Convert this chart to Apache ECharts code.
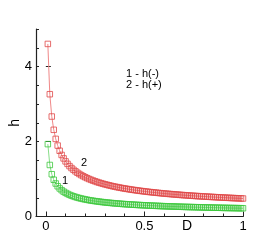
<!DOCTYPE html>
<html><head><meta charset="utf-8">
<script src="https://cdn.jsdelivr.net/npm/echarts@6/dist/echarts.min.js"></script>
<style>html,body{margin:0;padding:0;background:#fff}#c{width:276px;height:245px}</style>
</head><body><div id="c"></div>
<script>
const D = [0.01,0.02,0.03,0.04,0.05,0.06,0.07,0.08,0.09,0.10,
0.11,0.12,0.13,0.14,0.15,0.16,0.17,0.18,0.19,0.20,
0.21,0.22,0.23,0.24,0.25,0.26,0.27,0.28,0.29,0.30,
0.31,0.32,0.33,0.34,0.35,0.36,0.37,0.38,0.39,0.40,
0.41,0.42,0.43,0.44,0.45,0.46,0.47,0.48,0.49,0.50,
0.51,0.52,0.53,0.54,0.55,0.56,0.57,0.58,0.59,0.60,
0.61,0.62,0.63,0.64,0.65,0.66,0.67,0.68,0.69,0.70,
0.71,0.72,0.73,0.74,0.75,0.76,0.77,0.78,0.79,0.80,
0.81,0.82,0.83,0.84,0.85,0.86,0.87,0.88,0.89,0.90,
0.91,0.92,0.93,0.94,0.95,0.96,0.97,0.98,0.99,1.00];
const hPlus = [4.602,3.261,2.666,2.312,2.070,1.892,1.753,1.641,1.549,1.470,
1.403,1.344,1.292,1.246,1.205,1.167,1.133,1.102,1.073,1.046,
1.021,0.998,0.977,0.957,0.938,0.920,0.903,0.888,0.872,0.858,
0.845,0.832,0.819,0.807,0.796,0.785,0.775,0.765,0.755,0.746,
0.737,0.729,0.720,0.712,0.705,0.697,0.690,0.683,0.676,0.670,
0.663,0.657,0.651,0.645,0.640,0.634,0.629,0.623,0.618,0.613,
0.608,0.604,0.599,0.595,0.590,0.586,0.582,0.577,0.573,0.569,
0.566,0.562,0.558,0.554,0.551,0.547,0.544,0.541,0.537,0.534,
0.531,0.528,0.525,0.522,0.519,0.516,0.513,0.510,0.507,0.505,
0.502,0.499,0.497,0.494,0.492,0.489,0.487,0.485,0.482,0.480];
const hMinus = [1.930,1.374,1.127,0.980,0.880,0.806,0.748,0.702,0.663,0.631,
0.603,0.578,0.557,0.538,0.521,0.505,0.491,0.478,0.466,0.455,
0.445,0.435,0.426,0.418,0.410,0.403,0.396,0.389,0.383,0.377,
0.371,0.366,0.361,0.356,0.351,0.347,0.342,0.338,0.334,0.330,
0.327,0.323,0.320,0.316,0.313,0.310,0.307,0.304,0.301,0.299,
0.296,0.293,0.291,0.289,0.286,0.284,0.282,0.279,0.277,0.275,
0.273,0.271,0.269,0.268,0.266,0.264,0.262,0.260,0.259,0.257,
0.255,0.254,0.252,0.251,0.249,0.248,0.247,0.245,0.244,0.242,
0.241,0.240,0.239,0.237,0.236,0.235,0.234,0.233,0.231,0.230,
0.229,0.228,0.227,0.226,0.225,0.224,0.223,0.222,0.221,0.220];
const xMinorTicks = [0,0.1,0.2,0.3,0.4,0.5,0.6,0.7,0.8,0.9,1];
const xMajorTicks = [0,0.5,1];
const yMinorTicks = [0,0.5,1,1.5,2,2.5,3,3.5,4,4.5,5];
const yMajorTicks = [0,2,4];
const legendLines = ['1 - h(-)', '2 - h(+)'];
const curveLabels = ['1', '2'];

const font = 'Liberation Sans, Arial, sans-serif';
const chart = echarts.init(document.getElementById('c'), null, {renderer: 'canvas'});
const axCol = '#222';
function zip(x, y){ return x.map((v,i)=>[v,y[i]]); }
chart.setOption({
  animation: false,
  backgroundColor: '#fff',
  grid: {left: 36, right: 33, top: 29, bottom: 28.5, containLabel: false, outerBoundsMode: 'none'},
  xAxis: [{
    type: 'value', min: -0.05, max: 1,
    axisLine: {show: true, onZero: false, lineStyle: {color: axCol, width: 1.2}},
    axisTick: {show: true, inside: true, length: 3, customValues: xMinorTicks, lineStyle: {color: axCol}},
    axisLabel: {show: true, customValues: xMajorTicks, margin: 3, fontSize: 13, color: '#000', fontFamily: font,
      formatter: v => String(v)},
    splitLine: {show: false}
  },{
    type: 'value', min: -0.05, max: 1, position: 'bottom',
    axisLine: {show: false},
    axisTick: {show: true, inside: true, length: 5, customValues: xMajorTicks, lineStyle: {color: axCol}},
    axisLabel: {show: false}, splitLine: {show: false}
  }],
  yAxis: [{
    type: 'value', min: 0, max: 5,
    name: 'h', nameLocation: 'middle', nameGap: 14, nameRotate: 90, nameMoveOverlap: false,
    nameTextStyle: {fontSize: 14, color: '#000', fontFamily: font},
    axisLine: {show: true, onZero: false, lineStyle: {color: axCol, width: 1.2}},
    axisTick: {show: true, inside: true, length: 3, customValues: yMinorTicks, lineStyle: {color: axCol}},
    axisLabel: {show: true, customValues: yMajorTicks, margin: 4, fontSize: 13, color: '#000', fontFamily: font},
    splitLine: {show: false}
  },{
    type: 'value', min: 0, max: 5, position: 'left',
    axisLine: {show: false},
    axisTick: {show: true, inside: true, length: 5, customValues: yMajorTicks, lineStyle: {color: axCol}},
    axisLabel: {show: false}, splitLine: {show: false}
  }],
  series: [{
    type: 'line', data: zip(D, hPlus), xAxisIndex: 0, yAxisIndex: 0,
    symbol: 'rect', symbolSize: 5.5, showAllSymbol: true,
    lineStyle: {color: '#f08888', width: 1},
    itemStyle: {color: 'rgba(255,255,255,0)', borderColor: '#e04848', borderWidth: 0.8}
  },{
    type: 'line', data: zip(D, hMinus), xAxisIndex: 0, yAxisIndex: 0,
    symbol: 'rect', symbolSize: 5.5, showAllSymbol: true,
    lineStyle: {color: '#88dd88', width: 1},
    itemStyle: {color: 'rgba(255,255,255,0)', borderColor: '#3cc83c', borderWidth: 0.8}
  }],
  graphic: [
    {type: 'text', left: 126, top: 68, style: {text: legendLines.join('\n'), font: '11px ' + font, fill: '#000', lineHeight: 11}},
    {type: 'text', left: 81, top: 157, style: {text: curveLabels[1], font: '11px ' + font, fill: '#000'}},
    {type: 'text', left: 62, top: 175, style: {text: curveLabels[0], font: '11px ' + font, fill: '#000'}},
    {type: 'text', left: 182, top: 219, style: {text: 'D', font: '14px ' + font, fill: '#000'}}
  ]
});
</script></body></html>
